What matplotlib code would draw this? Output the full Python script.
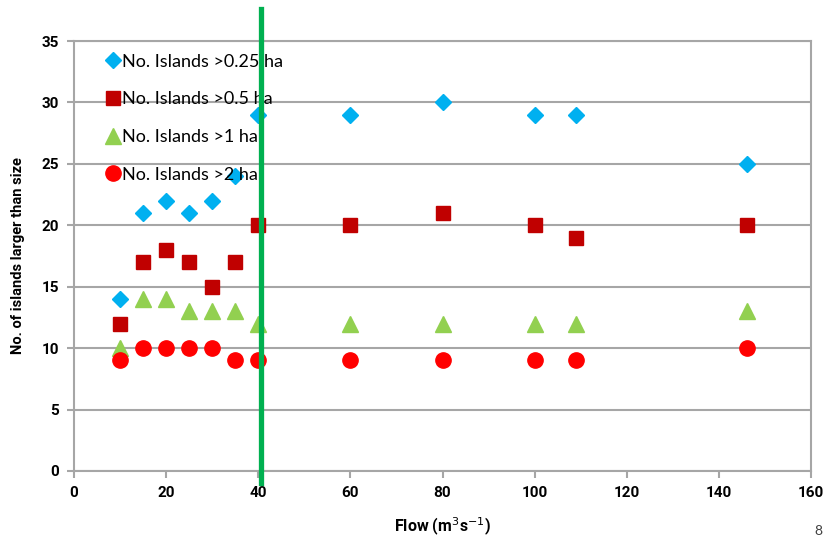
import matplotlib.pyplot as plt

# flow values (m3/s)
flow = [10, 15, 20, 25, 30, 35, 40, 60, 80, 100, 109, 146]

# number of islands larger than a given size
islands_025 = [14, 21, 22, 21, 22, 24, 29, 29, 30, 29, 29, 25]
islands_05 = [12, 17, 18, 17, 15, 17, 20, 20, 21, 20, 19, 20]
islands_1 = [10, 14, 14, 13, 13, 13, 12, 12, 12, 12, 12, 13]
islands_2 = [9, 10, 10, 10, 10, 9, 9, 9, 9, 9, 9, 10]

labels = ["No. Islands >0.25 ha", "No. Islands >0.5 ha",
          "No. Islands >1 ha", "No. Islands >2 ha"]

x_ticks = list(range(0, 161, 20))
y_ticks = list(range(0, 36, 5))

threshold_flow = 40.7


def main():
    plt.rcParams['font.family'] = ['Lato', 'DejaVu Sans']
    bold_font = ['Roboto', 'DejaVu Sans']
    grey = '#a6a6a6'

    fig = plt.figure(figsize=(8.28, 5.44), dpi=100)
    ax = fig.add_axes([0.0894, 0.1342, 0.8901, 0.7904])

    ax.plot(flow, islands_025, 'D', color='#00b0f0', ms=8, ls='none', label=labels[0], zorder=3)
    ax.plot(flow, islands_05, 's', color='#c00000', ms=10.5, ls='none', label=labels[1], zorder=3)
    ax.plot(flow, islands_1, '^', color='#92d050', ms=11, ls='none', label=labels[2], zorder=3)
    ax.plot(flow, islands_2, 'o', color='#ff0000', ms=11, ls='none', label=labels[3], zorder=3)

    ax.set_xlim(0, 160)
    ax.set_ylim(0, 35)
    ax.set_xticks(x_ticks)
    ax.set_xticklabels([str(v) for v in x_ticks], fontweight='bold', fontsize=11, family=bold_font)
    ax.set_yticks(y_ticks)
    ax.set_yticklabels([str(v) for v in y_ticks], fontweight='bold', fontsize=11, family=bold_font)
    ax.yaxis.grid(True, color=grey, linewidth=1.5, zorder=0)
    ax.set_axisbelow(True)
    for s in ax.spines.values():
        s.set_color(grey)
        s.set_linewidth(1.5)
    ax.tick_params(axis='both', colors=grey, width=1.5, length=5, pad=6, labelcolor='black')

    ax.set_xlabel("Flow (m$^3$s$^{-1}$)", fontsize=11.5, fontweight='bold', labelpad=11,
                  family=bold_font)
    ax.set_ylabel("No. of islands larger than size", fontsize=10.5, fontweight='bold', labelpad=12,
                  family=bold_font)

    leg = ax.legend(loc='upper left', bbox_to_anchor=(0.025, 1.0), frameon=False,
                    fontsize=13, labelspacing=1.2, handletextpad=0.05,
                    handlelength=0.9, borderaxespad=0.3)
    leg.set_zorder(5)

    # threshold flow line, runs past the plot area
    ax.plot([threshold_flow, threshold_flow], [-0.98, 37.6], color='#00b050', lw=3.8,
            clip_on=False, zorder=6)

    fig.text(0.993, 0.012, "8", fontsize=10, ha='right', va='bottom', color='#404040')

    fig.savefig('out.png', dpi=100)


if __name__ == '__main__':
    main()
